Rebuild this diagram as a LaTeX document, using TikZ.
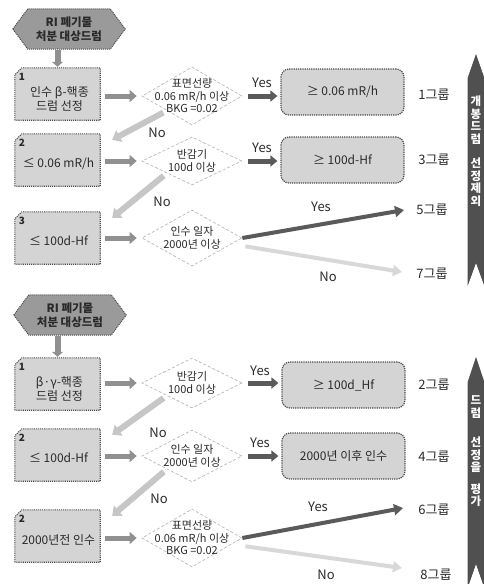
\documentclass[tikz,border=0pt]{standalone}
\usepackage{fontspec}
\setmainfont{Noto Sans CJK KR}
\usetikzlibrary{shapes.geometric,arrows.meta,calc,backgrounds}
\definecolor{boxfill}{HTML}{D4D4D4}
\definecolor{boxline}{HTML}{4A4A4A}
\definecolor{hexfill}{HTML}{9A9A9A}
\definecolor{feedc}{HTML}{909090}
\definecolor{yesc}{HTML}{5A5A5A}
\definecolor{noc}{HTML}{C6C6C6}
\definecolor{longno}{HTML}{D8D8D8}
\definecolor{barc}{HTML}{505050}
\definecolor{txt}{HTML}{2A2A2A}
\begin{document}
\begin{tikzpicture}[x=1pt,y=-1pt,
  every node/.style={text=txt},
  numbox/.style={rectangle, minimum width=85pt, minimum height=52pt, inner sep=0pt},
  boxshape/.style={draw=boxline, densely dotted, line width=1.1pt, fill=boxfill},
  boxtext/.style={align=center, inner sep=0pt, font=\fontsize{12}{14}\selectfont},
  cond/.style={diamond, draw=gray!55, densely dashed, line width=0.7pt, fill=white,
    inner sep=0pt, minimum width=100pt, minimum height=52pt},
  condtext/.style={align=center, inner sep=0pt, font=\fontsize{11}{12.5}\selectfont},
  result/.style={rectangle, rounded corners=8pt, draw=boxline, densely dotted,
    line width=1.2pt, fill=boxfill, minimum width=123pt, minimum height=46pt,
    font=\fontsize{12}{14}\selectfont},
  hexnode/.style={minimum width=112pt, minimum height=40pt, inner sep=0pt,
    align=center, font=\bfseries\fontsize{11.5}{13.5}\selectfont},
  hexshape/.style={fill=hexfill, draw=boxline, densely dotted, line width=1pt},
  grp/.style={font=\fontsize{13}{15}\selectfont},
  lab/.style={font=\fontsize{13}{15}\selectfont},
  numlab/.style={font=\bfseries\fontsize{10}{11}\selectfont, inner sep=0pt},
  bartext/.style={text=white, align=center, font=\bfseries\fontsize{11.5}{12.5}\selectfont, inner sep=0pt},
  barshape/.style={fill=barc, draw=black!70, line width=0.6pt},
  feed/.style={draw=feedc, line width=5pt, -{Triangle[length=7pt,width=12pt]}, shorten <=5pt, shorten >=5pt},
  yesar/.style={draw=yesc, line width=5pt, -{Triangle[length=7pt,width=11pt]}, shorten <=6pt, shorten >=3pt},
  noar/.style={draw=noc, line width=6pt, -{Triangle[length=8pt,width=13pt]}, shorten <=4pt},
  longyes/.style={draw=yesc, line width=4pt, -{Triangle[length=9pt,width=11pt]}},
  longno/.style={draw=longno, line width=4pt, -{Triangle[length=9pt,width=11pt]}, shorten <=2pt},
  downar/.style={draw=feedc, line width=6pt, -{Triangle[length=5pt,width=11pt]}, shorten <=1pt, shorten >=1pt}
]
\useasboundingbox (0,0) rectangle (484,584);

% ================= TOP SECTION =================
\node[hexnode] (h1) at (69,29) {RI 폐기물\\처분 대상드럼};
\begin{scope}[on background layer]
\draw[hexshape] (h1.west) -- ($(h1.north west)+(15,0)$) -- ($(h1.north east)+(-15,0)$)
  -- (h1.east) -- ($(h1.south east)+(-15,0)$) -- ($(h1.south west)+(15,0)$) -- cycle;
\end{scope}

\node[numbox] (b1) at (57.5,94) {};
\node[numbox] (b2) at (57.5,160) {};
\node[numbox] (b3) at (57.5,238) {};
\foreach \b in {b1,b2,b3}{
  \draw[boxshape] (\b.south west) -- ($(\b.north west)+(0,7)$) -- ($(\b.north west)+(7,0)$)
    -- (\b.north east) -- (\b.south east) -- cycle;
}
\node[boxtext] (b1t) at ($(b1)+(2,5)$) {인수 β-핵종\\드럼 선정};
\node[boxtext] (b2t) at ($(b2)+(1,4)$) {≤ 0.06 mR/h};
\node[boxtext] (b3t) at ($(b3)+(1,3)$) {≤ 100d-Hf};
\node[numlab] at ($(b1.north west)+(7,9)$) {1};
\node[numlab] at ($(b2.north west)+(7,9)$) {2};
\node[numlab] at ($(b3.north west)+(7,9)$) {3};

\node[cond, minimum height=58pt] (d1) at (192,96) {};
\node[cond, minimum height=48pt] (d2) at (192,161) {};
\node[cond, minimum height=56pt] (d3) at (192,238) {};
\node[condtext] (d1t) at (d1) {표면선량\\0.06 mR/h 이상\\BKG =0.02};
\node[condtext] (d2t) at (d2) {반감기\\100d 이상};
\node[condtext] (d3t) at (d3) {인수 일자\\2000년 이상};

\node[result] (r1) at (342.5,92) {≥ 0.06 mR/h};
\node[result] (r2) at (342.5,160) {≥ 100d-Hf};

\node[grp] (g1) at (434,95) {1그룹};
\node[grp] (g3) at (434,160) {3그룹};
\node[grp] (g5) at (432,210) {5그룹};
\node[grp] (g7) at (432,274) {7그룹};

\coordinate (e5) at (404,210);
\coordinate (e7) at (402,272);

\draw[downar] (b1.north |- h1.south) -- (b1.north);
\draw[feed] (b1.east |- d1.west) -- (d1.west);
\draw[feed] (b2.east |- d2.west) -- (d2.west);
\draw[feed] (b3.east) -- (d3.west);
\draw[yesar] (d1.east) -- (r1.west |- d1.east);
\draw[yesar] (d2.east) -- (r2.west |- d2.east);
\draw[noar] ($(d1.west)!0.5!(d1.south)$) -- ($(b2.north east)+(12,6)$);
\draw[noar] ($(d2.west)!0.5!(d2.south)$) -- ($(b3.north east)+(12,6)$);
\draw[longyes] (d3.east) -- (e5);
\draw[longno] ($(d3.east)+(1,8)$) -- (e7);

\node[lab] at (262,83) {Yes};
\node[lab] at (262,148) {Yes};
\node[lab] at (157,133) {No};
\node[lab] at (162,202) {No};
\node[lab] at (321,207) {Yes};
\node[lab] at (328,277) {No};

% top bar
\draw[barshape] (468,78) -- (476,55) -- (484,78) -- (484,284) -- (476,262) -- (468,284) -- cycle;
\node[bartext] (t1) at (476,120) {개\\봉\\드\\럼};
\node[bartext] (t2) at (476,182) {선\\정\\제\\외};

% ================= BOTTOM SECTION =================
\node[hexnode] (h2) at (70,315) {RI 폐기물\\처분 대상드럼};
\begin{scope}[on background layer]
\draw[hexshape] (h2.west) -- ($(h2.north west)+(15,0)$) -- ($(h2.north east)+(-15,0)$)
  -- (h2.east) -- ($(h2.south east)+(-15,0)$) -- ($(h2.south west)+(15,0)$) -- cycle;
\end{scope}

\node[numbox] (b4) at (57.5,384) {};
\node[numbox] (b5) at (57.5,455) {};
\node[numbox] (b6) at (57.5,536) {};
\foreach \b in {b4,b5,b6}{
  \draw[boxshape] (\b.south west) -- ($(\b.north west)+(0,7)$) -- ($(\b.north west)+(7,0)$)
    -- (\b.north east) -- (\b.south east) -- cycle;
}
\node[boxtext] (b4t) at ($(b4)+(2,5)$) {β·γ-핵종\\드럼 선정};
\node[boxtext] (b5t) at ($(b5)+(1,3)$) {≤ 100d-Hf};
\node[boxtext] (b6t) at ($(b6)+(1,4)$) {2000년전 인수};
\node[numlab] at ($(b4.north west)+(7,9)$) {1};
\node[numlab] at ($(b5.north west)+(7,9)$) {2};
\node[numlab] at ($(b6.north west)+(7,9)$) {2};

\node[cond, minimum height=50pt] (d4) at (192,383) {};
\node[cond, minimum height=52pt] (d5) at (192,456) {};
\node[cond, minimum height=58pt] (d6) at (192,538) {};
\node[condtext] (d4t) at (d4) {반감기\\100d 이상};
\node[condtext] (d5t) at (d5) {인수 일자\\2000년 이상};
\node[condtext] (d6t) at (d6) {표면선량\\0.06 mR/h 이상\\BKG =0.02};

\node[result] (r4) at (343.5,385) {≥ 100d\_Hf};
\node[result] (r5) at (343.5,456) {2000년 이후 인수};

\node[grp] (g2) at (434,385) {2그룹};
\node[grp] (g4) at (434,457) {4그룹};
\node[grp] (g6) at (434,510) {6그룹};
\node[grp] (g8) at (436,575) {8그룹};

\coordinate (e6) at (403,508);
\coordinate (e8) at (402,568);

\draw[downar] (b4.north |- h2.south) -- (b4.north);
\draw[feed] (b4.east |- d4.west) -- (d4.west);
\draw[feed] (b5.east |- d5.west) -- (d5.west);
\draw[feed] (b6.east |- d6.west) -- (d6.west);
\draw[yesar] (d4.east) -- (r4.west |- d4.east);
\draw[yesar] (d5.east) -- (r5.west |- d5.east);
\draw[noar] ($(d4.west)!0.5!(d4.south)$) -- ($(b5.north east)+(12,6)$);
\draw[noar] ($(d5.west)!0.5!(d5.south)$) -- ($(b6.north east)+(12,6)$);
\draw[longyes] (d6.east) -- (e6);
\draw[longno] ($(d6.east)+(1,8)$) -- (e8);

\node[lab] at (260,371) {Yes};
\node[lab] at (260,443) {Yes};
\node[lab] at (158,433) {No};
\node[lab] at (159,499) {No};
\node[lab] at (318,507) {Yes};
\node[lab] at (326,575) {No};

% bottom bar
\draw[barshape] (468,382) -- (476,358) -- (484,382) -- (484,586) -- (476,563) -- (468,586) -- cycle;
\node[bartext] (t3) at (476,407) {드\\럼};
\node[bartext] (t4) at (476,455) {선\\정\\을};
\node[bartext] (t5) at (476,495) {평\\가};
\end{tikzpicture}
\end{document}
